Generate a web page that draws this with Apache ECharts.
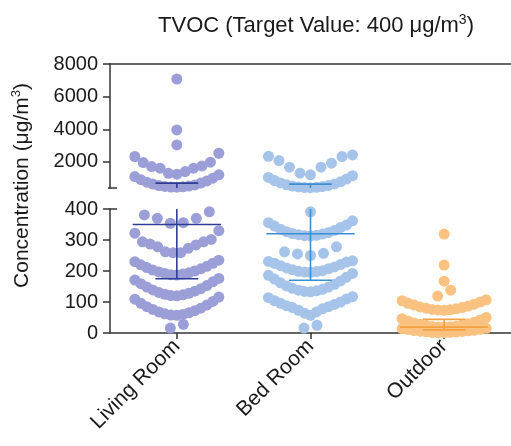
<!DOCTYPE html>
<html>
<head>
<meta charset="utf-8">
<script src="https://cdn.jsdelivr.net/npm/echarts@6/dist/echarts.min.js"></script>
<style>
html,body{margin:0;padding:0;background:#fff;}
#main{width:511px;height:446px;}
</style>
</head>
<body>
<div id="main"></div>
<script>
// ---------------- data ----------------
const categories = ['Living Room', 'Bed Room', 'Outdoor'];

const livingRoom = [7080, 3960, 3040, 2530, 2330, 1980, 1960, 1755, 1715, 1615, 1615, 1410, 1300, 1250,
  1205, 1100, 1000, 910, 830, 760, 700, 640, 590, 550, 520, 495, 475, 460, 450,
  391, 381, 370, 370, 356, 354, 330, 322, 302, 294, 294, 287, 284, 278, 273, 262, 259, 259,
  235, 230, 225, 220, 215, 211, 207, 203, 200, 197, 194, 192, 190, 188, 187,
  176, 171, 165, 159, 153, 148, 143, 139, 135, 131, 128, 125, 123, 121, 120,
  116, 109, 102, 96, 90, 85, 80, 76, 72, 68, 65, 62, 60, 58, 57, 28, 16];

const bedRoom = [2428, 2345, 2330, 2080, 1920, 1675, 1675, 1310, 1205,
  1150, 1050, 950, 860, 780, 710, 650, 600, 560, 520, 490, 465, 445, 430, 420,
  391, 362, 356, 348, 345, 340, 335, 331, 327, 324, 321, 319, 317, 315, 314, 313,
  278, 262, 257, 255, 250,
  233, 231, 229, 225, 221, 217, 213, 210, 207, 204, 201, 199, 198, 197, 196,
  192, 186, 180, 174, 168, 162, 157, 152, 148, 144, 141, 138, 136, 134, 133,
  117, 114, 110, 104, 100, 96, 92, 88, 85, 82, 78, 73, 68, 64, 57, 25, 16];

const outdoor = [319, 219, 167, 138, 119,
  107, 104, 100, 96, 93, 90, 87, 84, 82, 80, 78, 76, 75, 74, 73,
  50, 46, 42, 38, 35, 32, 30, 28, 26, 24, 22, 21, 20, 19, 19,
  15, 14, 12, 11, 9, 8, 7, 6, 5, 4, 3, 2, 2, 1, 1];

const medians = [350, 320, 19];
const lowerQuartiles = [175, 170, 10];
const upperQuartiles = [700, 640, 44];

const upperTicks = [2000, 4000, 6000, 8000];
const breakValue = 400;
const upperMax = 8000;

// ---------------- style ----------------
const FONT = '"Liberation Sans", Arial, Helvetica, sans-serif';
const dotColors = ['#9b9ed7', '#a6c4e9', '#f9c281'];
const lineColors = ['#2f3c95', '#3a8fd2', '#f3a042'];
const AX = '#333';
const TXT = '#1a1a1a';

const groups = [livingRoom, bedRoom, outdoor];

const chart = echarts.init(document.getElementById('main'), null, {renderer: 'canvas'});

const axisLineStyle = {color: AX, width: 1.5};
const baseOption = {
  animation: false,
  backgroundColor: '#fff',
  title: {
    text: '{a|TVOC (Target Value: 400 μg/m}{s|3}{a|)}',
    left: 311, top: 8, textAlign: 'center',
    textStyle: {
      fontWeight: 'normal',
      rich: {
        a: {fontSize: 22, color: TXT, fontFamily: FONT, fontWeight: 'normal'},
        s: {fontSize: 14, color: TXT, fontFamily: FONT, fontWeight: 'normal', padding: [0, 0, 12, 0]}
      }
    }
  },
  grid: [
    {left: 110, width: 403, top: 64, height: 124},
    {left: 110, width: 403, top: 209, height: 124}
  ],
  xAxis: [
    {gridIndex: 0, type: 'value', position: 'top', min: -0.5, max: 2.5,
      axisLine: {show: true, onZero: false, lineStyle: axisLineStyle}, axisTick: {show: false},
      axisLabel: {show: false}, splitLine: {show: false}},
    {gridIndex: 1, type: 'category', data: categories, position: 'bottom',
      axisLine: {show: true, onZero: false, lineStyle: axisLineStyle},
      axisTick: {show: true, alignWithLabel: true, length: 6, lineStyle: axisLineStyle},
      axisLabel: {rotate: 45, fontSize: 21, color: TXT, fontFamily: FONT, margin: 10},
      splitLine: {show: false}},
    {gridIndex: 1, type: 'value', min: -0.5, max: 2.5, show: false, axisLine: {onZero: false}}
  ],
  yAxis: [
    {gridIndex: 0, type: 'value', min: breakValue, max: upperMax,
      axisLine: {show: true, onZero: false, lineStyle: axisLineStyle},
      axisTick: {show: true, length: 7, customValues: upperTicks, lineStyle: axisLineStyle},
      axisLabel: {customValues: upperTicks, fontSize: 20, color: TXT, fontFamily: FONT, margin: 12,
        formatter: v => String(v)},
      splitLine: {show: false}},
    {gridIndex: 1, type: 'value', min: 0, max: 400, interval: 100,
      axisLine: {show: true, onZero: false, lineStyle: axisLineStyle},
      axisTick: {show: true, length: 7, lineStyle: axisLineStyle},
      axisLabel: {fontSize: 20, color: TXT, fontFamily: FONT, margin: 12, formatter: v => String(v)},
      splitLine: {show: false}}
  ],
  series: []
};
chart.setOption(baseOption);

// Prism-like scatter layout: sorted values are grouped into rows (by pixel gap and
// row capacity), each row spread symmetrically with lowest values in the middle.
const GAP_PX = 7, ROW_MAX = 15, STEP_MAX = 13, HALF_W = 42;
function rowLayout(values, yAxisIndex, xAxisIndex, center) {
  const pxPerUnit = Math.abs(chart.convertToPixel({xAxisIndex: xAxisIndex}, 1) - chart.convertToPixel({xAxisIndex: xAxisIndex}, 0));
  const pts = values.slice().sort((a, b) => a - b).map(v => ({v: v, y: chart.convertToPixel({yAxisIndex: yAxisIndex}, v)}));
  const rows = [];
  let cur = [];
  pts.forEach(p => {
    if (cur.length && (cur.length >= ROW_MAX || Math.abs(cur[cur.length - 1].y - p.y) > GAP_PX)) {
      rows.push(cur); cur = [];
    }
    cur.push(p);
  });
  if (cur.length) rows.push(cur);
  const out = [];
  rows.forEach(row => {
    const n = row.length;
    const s = n > 1 ? Math.min(STEP_MAX, 2 * HALF_W / (n - 1)) : 0;
    const slots = [];
    for (let j = 0; j < n; j++) slots.push((j - (n - 1) / 2) * s);
    slots.sort((a, b) => Math.abs(a) - Math.abs(b) || a - b);
    row.forEach((p, k) => out.push([center + slots[k] / pxPerUnit, p.v]));
  });
  return out;
}

const series = [];
groups.forEach((vals, i) => {
  const up = vals.filter(v => v > breakValue);
  const lo = vals.filter(v => v <= breakValue);
  series.push({type: 'scatter', xAxisIndex: 0, yAxisIndex: 0, symbolSize: 11, clip: false, z: 2,
    itemStyle: {color: dotColors[i], opacity: 1}, data: rowLayout(up, 0, 0, i)});
  series.push({type: 'scatter', xAxisIndex: 2, yAxisIndex: 1, symbolSize: 11, clip: false, z: 2,
    itemStyle: {color: dotColors[i], opacity: 1}, data: rowLayout(lo, 1, 2, i)});
});

const W_MED = 0.33, W_CAP = 0.16;
function summaryRender(lower) {
  return function (params, api) {
    const i = api.value(0);
    const col = lineColors[i];
    const lo = lower ? 0 : breakValue, hi = lower ? breakValue : upperMax;
    const inR = v => v >= lo && v <= hi;
    const clampV = v => Math.max(lo, Math.min(hi, v));
    const children = [];
    const hline = (v, w) => {
      const a = api.coord([i - w, v]), b = api.coord([i + w, v]);
      children.push({type: 'line', shape: {x1: a[0], y1: a[1], x2: b[0], y2: b[1]}, style: {stroke: col, lineWidth: 1.6}});
    };
    if (inR(medians[i])) hline(medians[i], W_MED);
    if (inR(lowerQuartiles[i])) hline(lowerQuartiles[i], W_CAP);
    if (inR(upperQuartiles[i])) hline(upperQuartiles[i], W_CAP);
    const v1 = clampV(lowerQuartiles[i]), v2 = clampV(upperQuartiles[i]);
    if (v2 > v1) {
      const a = api.coord([i, v1]), b = api.coord([i, v2]);
      children.push({type: 'line', shape: {x1: a[0], y1: a[1], x2: b[0], y2: b[1]}, style: {stroke: col, lineWidth: 1.6}});
    }
    return {type: 'group', children: children};
  };
}
series.push({type: 'custom', xAxisIndex: 0, yAxisIndex: 0, z: 5, clip: true,
  renderItem: summaryRender(false), data: [[0, 1000], [1, 1000], [2, 1000]]});
series.push({type: 'custom', xAxisIndex: 2, yAxisIndex: 1, z: 5, clip: false,
  renderItem: summaryRender(true), data: [[0, 100], [1, 100], [2, 100]]});

// axis break marks and y-axis name
const xAxisPx = chart.convertToPixel({xAxisIndex: 0}, -0.5);
const yBreakUp = chart.convertToPixel({yAxisIndex: 0}, breakValue);
const yBreakLo = chart.convertToPixel({yAxisIndex: 1}, breakValue);
const yTopUp = chart.convertToPixel({yAxisIndex: 0}, upperMax);
const yZero = chart.convertToPixel({yAxisIndex: 1}, 0);

chart.setOption({
  series: series,
  graphic: [
    {type: 'line', shape: {x1: xAxisPx - 2, y1: yBreakUp, x2: xAxisPx + 7, y2: yBreakUp}, style: {stroke: AX, lineWidth: 1.5}},
    {type: 'line', shape: {x1: xAxisPx, y1: yBreakLo, x2: xAxisPx + 7, y2: yBreakLo}, style: {stroke: AX, lineWidth: 1.5}},
    {type: 'text', x: 22, y: (yTopUp + yZero) / 2 - 13, rotation: Math.PI / 2,
      style: {
        text: '{a|Concentration (μg/m}{s|3}{a|)}',
        align: 'center', verticalAlign: 'middle',
        rich: {
          a: {fontSize: 21, fill: TXT, fontFamily: FONT},
          s: {fontSize: 13, fill: TXT, fontFamily: FONT, padding: [0, 0, 12, 0]}
        }
      }}
  ]
});
</script>
</body>
</html>
